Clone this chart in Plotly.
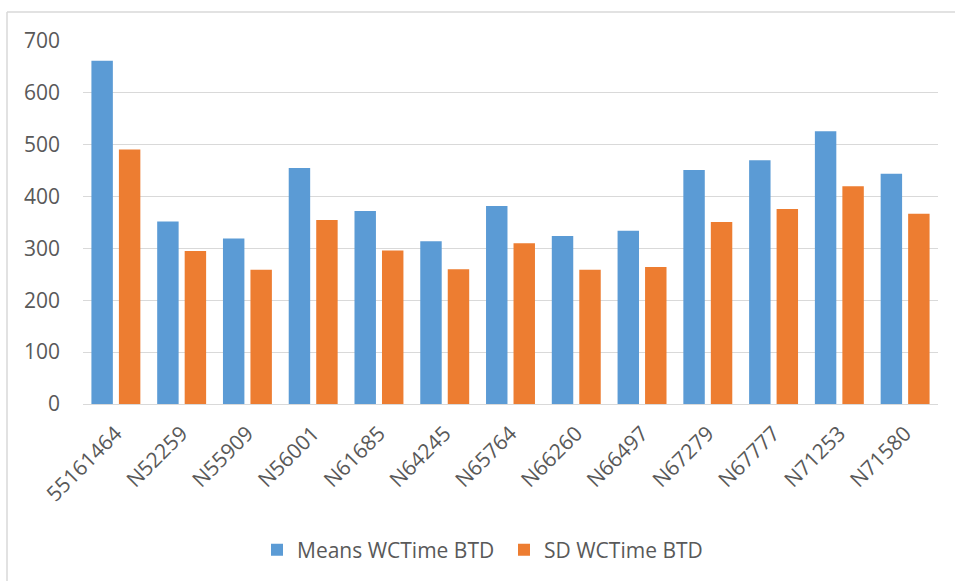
import plotly.graph_objects as go

categories = ["55161464", "N52259", "N55909", "N56001", "N61685", "N64245", "N65764",
              "N66260", "N66497", "N67279", "N67777", "N71253", "N71580"]
means_wctime_btd = [662, 352, 319, 455, 372, 314, 382, 324, 334, 451, 470, 526, 444]
sd_wctime_btd = [491, 295, 259, 355, 296, 260, 310, 259, 264, 351, 376, 420, 367]
y_ticks = [0, 100, 200, 300, 400, 500, 600, 700]

W, H = 955, 581
L, R, T, B = 83, 17, 41, 177
pw, ph = W - L - R, H - T - B

def px_x(p):
    return (p - L) / pw

def px_y(p):
    return (H - B - p) / ph

font_family = "Open Sans, Liberation Sans, sans-serif"
text_color = "#595959"

fig = go.Figure()
fig.add_trace(go.Bar(name="Means WCTime BTD", x=categories, y=means_wctime_btd,
                     marker=dict(color="#5B9BD5", line=dict(width=0))))
fig.add_trace(go.Bar(name="SD WCTime BTD", x=categories, y=sd_wctime_btd,
                     marker=dict(color="#ED7D31", line=dict(width=0))))

fig.update_layout(
    width=W, height=H,
    margin=dict(l=L, r=R, t=T, b=B, pad=0, autoexpand=False),
    paper_bgcolor="white", plot_bgcolor="white",
    barmode="group", bargap=0.164, bargroupgap=0.22,
    font=dict(family=font_family, size=21, color=text_color),
    showlegend=True,
    legend=dict(orientation="h", x=px_x(257), xanchor="left", y=px_y(550), yanchor="middle",
                font=dict(size=21, color=text_color), bgcolor="rgba(0,0,0,0)",
                itemwidth=30, traceorder="normal", entrywidth=202, entrywidthmode="pixels"),
    xaxis=dict(type="category", tickangle=-45, showgrid=False, showline=False,
               zeroline=False, ticks="", ticklabelstandoff=12, automargin=False,
               tickfont=dict(size=21, color=text_color)),
    yaxis=dict(range=[0, 700], tickvals=y_ticks, ticktext=[str(v) for v in y_ticks],
               showgrid=True, gridcolor="#D9D9D9", gridwidth=1,
               zeroline=True, zerolinecolor="#D9D9D9", zerolinewidth=1,
               showline=False, ticks="", ticklabelstandoff=22, automargin=False,
               tickfont=dict(size=21, color=text_color)),
    shapes=[
        dict(type="line", xref="paper", yref="paper", x0=px_x(7), x1=px_x(W + 5),
             y0=px_y(12), y1=px_y(12), line=dict(color="#D9D9D9", width=1.5)),
        dict(type="line", xref="paper", yref="paper", x0=px_x(7), x1=px_x(7),
             y0=px_y(12), y1=px_y(H + 5), line=dict(color="#D9D9D9", width=1.5)),
    ],
)

fig.write_html("out.html", config={"displayModeBar": False},
               post_script="document.body.style.margin='0';document.body.style.overflow='hidden';")
